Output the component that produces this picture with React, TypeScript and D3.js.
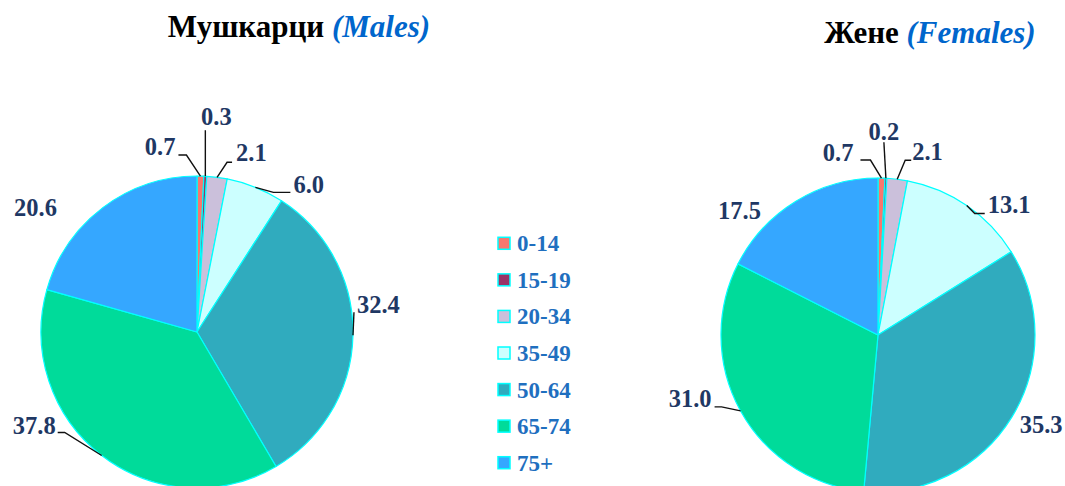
import React from "react";
import * as d3 from "d3";

const categories = ["0-14", "15-19", "20-34", "35-49", "50-64", "65-74", "75+"];
const malesValues = [0.7, 0.3, 2.1, 6.0, 32.4, 37.8, 20.6];
const femalesValues = [0.7, 0.2, 2.1, 13.1, 35.3, 31.0, 17.5];
const colors = ["#F8776E", "#993366", "#CBC0DB", "#CCFFFF", "#30ABBE", "#00DB9A", "#35A7FF"];

// label layout: offsets from the slice's outer edge point (mid-angle)
type LabelLayout = { dx: number; dy: number; anchor: string; leader: [number, number][] };
const malesLabels: LabelLayout[] = [
  { dx: -25, dy: -21, anchor: "end", leader: [[-14, -21], [-22, -21]] },
  { dx: 11, dy: -51, anchor: "middle", leader: [[0, -46]] },
  { dx: 19, dy: -16, anchor: "start", leader: [[10, -15], [15, -15]] },
  { dx: 38, dy: 6, anchor: "start", leader: [[18, 5], [35, 5]] },
  { dx: 4, dy: -22, anchor: "start", leader: [[1, -23]] },
  { dx: -46, dy: -22, anchor: "end", leader: [[-37, -23], [-44, -23]] },
  { dx: -46, dy: 8, anchor: "end", leader: [] },
];
const femalesLabels: LabelLayout[] = [
  { dx: -28, dy: -17, anchor: "end", leader: [[-11, -18], [-21, -18]] },
  { dx: -2, dy: -38, anchor: "middle", leader: [[-2, -36]] },
  { dx: 15, dy: -19, anchor: "start", leader: [[8, -19], [14, -19]] },
  { dx: 21, dy: 8, anchor: "start", leader: [[8, 8], [18, 8]] },
  { dx: 8, dy: 16, anchor: "start", leader: [] },
  { dx: -29, dy: -4, anchor: "end", leader: [[-19, -4], [-26, -4]] },
  { dx: -35, dy: 18, anchor: "end", leader: [] },
];

const serif = "'Liberation Serif', 'Times New Roman', serif";
const labelColor = "#1F3864";

function Pie({ values, cx, cy, r, layout }: { values: number[]; cx: number; cy: number; r: number; layout: LabelLayout[] }) {
  const pie = d3.pie<number>().sort(null).value((d) => d)(values);
  const arc = d3.arc<d3.PieArcDatum<number>>().innerRadius(0).outerRadius(r);
  return (
    <g transform={`translate(${cx},${cy})`}>
      {pie.map((p, i) => (
        <path key={i} d={arc(p) || ""} fill={colors[i]} stroke="#00FFFF" strokeWidth={1.2} strokeLinejoin="round" />
      ))}
      {pie.map((p, i) => {
        const a = (p.startAngle + p.endAngle) / 2;
        const ex = r * Math.sin(a);
        const ey = -r * Math.cos(a);
        const L = layout[i];
        const pts: [number, number][] = [[ex, ey], ...L.leader.map(([x, y]) => [ex + x, ey + y] as [number, number])];
        return (
          <g key={"l" + i}>
            {L.leader.length > 0 && (
              <polyline points={pts.map((q) => q.join(",")).join(" ")} fill="none" stroke="#111" strokeWidth={1.4} />
            )}
            <text x={ex + L.dx} y={ey + L.dy} textAnchor={L.anchor as any} fontFamily={serif} fontWeight="bold" fontSize={24.5} fill={labelColor}>
              {values[i].toFixed(1)}
            </text>
          </g>
        );
      })}
    </g>
  );
}

export default function App() {
  const legendY = d3.scaleBand<string>().domain(categories).range([225, 481]);
  return (
    <div style={{ position: "fixed", left: 0, top: 0 }}>
      <svg width={1065} height={486} style={{ display: "block", background: "#fff" }}>
        <text x={299} y={37} textAnchor="middle" fontFamily={serif} fontWeight="bold" fontSize={31}>
          <tspan fill="#000">Мушкарци </tspan>
          <tspan fill="#0066CC" fontStyle="italic">(Males)</tspan>
        </text>
        <text x={930} y={43} textAnchor="middle" fontFamily={serif} fontWeight="bold" fontSize={31}>
          <tspan fill="#000">Жене </tspan>
          <tspan fill="#0066CC" fontStyle="italic">(Females)</tspan>
        </text>
        <Pie values={malesValues} cx={197} cy={332} r={156} layout={malesLabels} />
        <Pie values={femalesValues} cx={878} cy={335} r={157} layout={femalesLabels} />
        {categories.map((c, i) => {
          const y = (legendY(c) || 0) + legendY.bandwidth() / 2;
          return (
            <g key={c}>
              <rect x={498} y={y - 6} width={12} height={12} fill={colors[i]} stroke="#00FFFF" strokeWidth={1.5} />
              <text x={517} y={y + 8} fontFamily={serif} fontWeight="bold" fontSize={23} fill="#1F6FBF">
                {c}
              </text>
            </g>
          );
        })}
      </svg>
    </div>
  );
}
